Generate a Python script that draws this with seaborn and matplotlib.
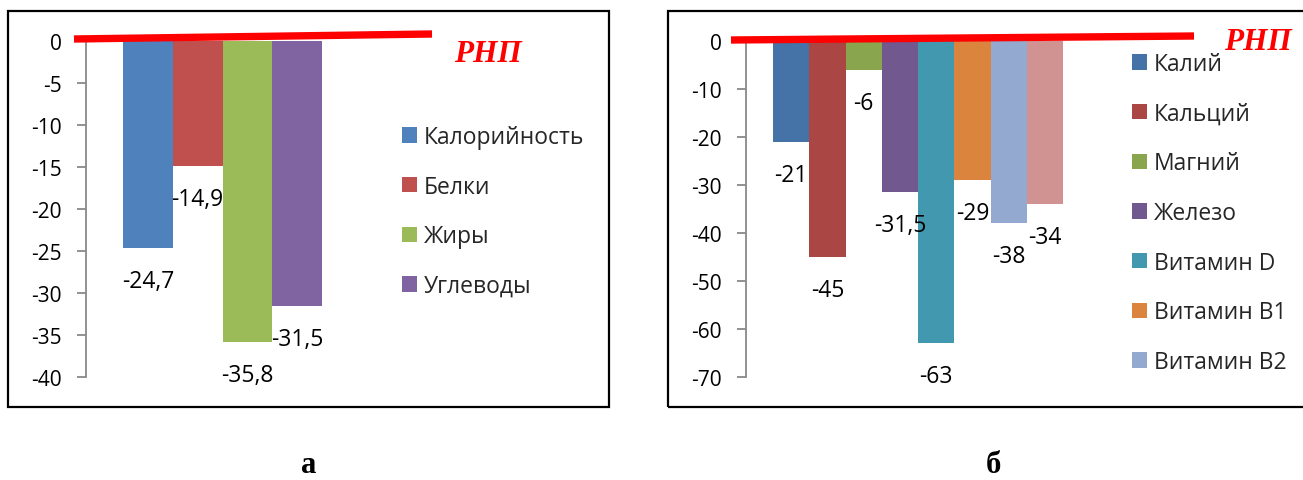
import matplotlib
matplotlib.use('Agg')
import matplotlib.pyplot as plt
import seaborn as sns
import pandas as pd
from matplotlib.lines import Line2D
from matplotlib.patches import Rectangle

# ---------------- data ----------------
cats_a = ['Калорийность', 'Белки', 'Жиры', 'Углеводы']
vals_a = [-24.7, -14.9, -35.8, -31.5]
colors_a = ['#4F81BD', '#C0504D', '#9BBB59', '#8064A2']
yticks_a = [0, -5, -10, -15, -20, -25, -30, -35, -40]

cats_b = ['Калий', 'Кальций', 'Магний', 'Железо', 'Витамин D',
          'Витамин B1', 'Витамин B2', 'Витамин PP']
vals_b = [-21, -45, -6, -31.5, -63, -29, -38, -34]
colors_b = ['#4572A7', '#AA4643', '#89A54E', '#71588F', '#4198AF',
            '#DB843D', '#93A9CF', '#D19392']
yticks_b = [0, -10, -20, -30, -40, -50, -60, -70]
legend_n_b = 7  # last entry is cut off in the original

ref_label = 'РНП'
captions = ['а', 'б']

# ---------------- style ----------------
sns.set_style('white')
plt.rcParams['font.family'] = ['Open Sans', 'DejaVu Sans']
plt.rcParams['axes.unicode_minus'] = False

W, H = 1303, 481
fig = plt.figure(figsize=(W / 100, H / 100), dpi=100)
fig.patch.set_facecolor('white')


def fx(x):
    return x / W


def fy(y):
    return 1 - y / H


def fmt(v):
    s = ('%g' % v).replace('.', ',')
    return s


def panel(cats, vals, colors, yticks, ax_left, ax_right, bar_left, bar_w,
          ax_top, ax_bot, ymin, border, line, rnp_xy, leg_xy, leg_n, caption_xy, caption):
    ax = fig.add_axes([fx(ax_left), fy(ax_bot), (ax_right - ax_left) / W,
                       (ax_bot - ax_top) / H])
    df = pd.DataFrame({'cat': cats, 'val': vals})
    sns.barplot(data=df, x='cat', y='val', hue='cat', order=cats, hue_order=cats,
                palette=colors, saturation=1, width=1.0, legend=False, ax=ax,
                linewidth=0, edgecolor='none')
    ax.set_xlim(-0.5 - (bar_left - ax_left) / bar_w,
                -0.5 + (ax_right - bar_left) / bar_w)
    ax.set_ylim(ymin, 0)
    ax.set_yticks(yticks)
    ax.set_yticklabels([str(t) for t in yticks])
    ax.set_xticks([])
    ax.set_xlabel('')
    ax.set_ylabel('')
    for s in ['top', 'right', 'bottom']:
        ax.spines[s].set_visible(False)
    ax.spines['left'].set_color('#898989')
    ax.spines['left'].set_linewidth(1.3)
    ax.tick_params(axis='y', which='major', left=True, direction='out',
                   length=6.5, width=1.3, color='#898989', labelsize=15,
                   pad=11, labelcolor='black')
    ax.patch.set_alpha(0)

    # data labels
    for p, v in zip(ax.patches, vals):
        xc = p.get_x() + p.get_width() / 2
        ax.annotate(fmt(v), (xc, p.get_y() + p.get_height()), xytext=(0, -30),
                    textcoords='offset pixels', ha='center', va='center_baseline',
                    fontsize=16.5, color='black', annotation_clip=False)

    # legend
    handles = list(ax.patches[:leg_n])
    fig.legend(handles, cats[:leg_n], loc='upper left',
               bbox_to_anchor=(fx(leg_xy[0]), fy(leg_xy[1])),
               frameon=False, fontsize=16.5, handlelength=0.65, handleheight=0.65,
               handletextpad=0.3, labelspacing=1.12, borderpad=0, borderaxespad=0)

    # border of the chart area
    fig.add_artist(Rectangle((fx(border[0]), fy(border[3])),
                             (border[2] - border[0]) / W, (border[3] - border[1]) / H,
                             transform=fig.transFigure, fill=False,
                             edgecolor='black', linewidth=1.6, clip_on=False))
    # red norm line
    fig.add_artist(Line2D([fx(line[0]), fx(line[2])], [fy(line[1]), fy(line[3])],
                          transform=fig.transFigure, color='#FF0000', linewidth=5.3,
                          solid_capstyle='butt'))
    fig.text(fx(rnp_xy[0]), fy(rnp_xy[1]), ref_label, color='#FF0000',
             family='Liberation Serif', fontweight='bold', style='italic',
             fontsize=22.5, ha='center', va='center')
    fig.text(fx(caption_xy[0]), fy(caption_xy[1]), caption, color='black',
             family='Liberation Serif', fontweight='bold', fontsize=22,
             ha='center', va='bottom')
    return ax


panel(cats_a, vals_a, colors_a, yticks_a,
      ax_left=86, ax_right=400, bar_left=123, bar_w=49.75,
      ax_top=42, ax_bot=378, ymin=-40,
      border=(8, 12, 609, 408), line=(74, 40, 432, 35),
      rnp_xy=(488, 55), leg_xy=(402, 126), leg_n=4,
      caption_xy=(309, 480), caption=captions[0])

panel(cats_b, vals_b, colors_b, yticks_b,
      ax_left=746, ax_right=1120, bar_left=773, bar_w=36.25,
      ax_top=42, ax_bot=378, ymin=-70,
      border=(668, 12, 1320, 408), line=(731, 41, 1194, 37),
      rnp_xy=(1258, 42), leg_xy=(1132, 53), leg_n=legend_n_b,
      caption_xy=(993, 480), caption=captions[1])

fig.savefig('out.png', dpi=100, facecolor='white')
